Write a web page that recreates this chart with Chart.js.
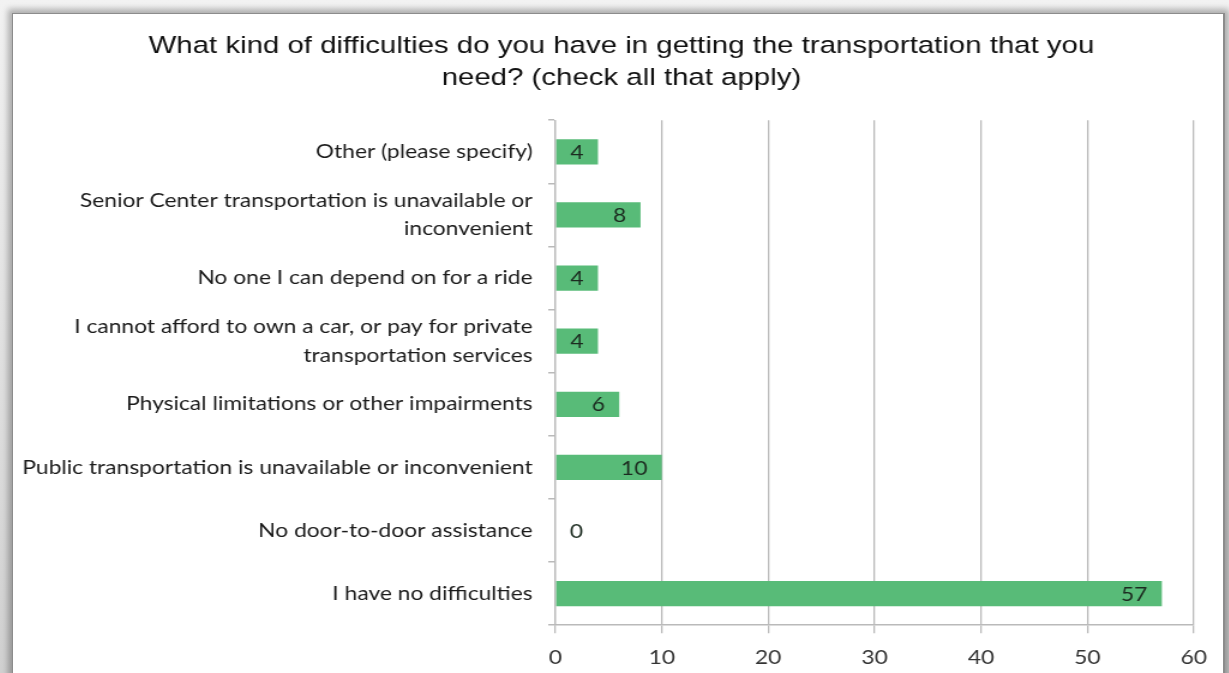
<!DOCTYPE html>
<html>
<head>
<meta charset="utf-8">
<script src="https://cdn.jsdelivr.net/npm/chart.js@4"></script>
<style>
  html, body { margin: 0; padding: 0; }
  body { width: 1229px; height: 673px; overflow: hidden; background: linear-gradient(#f2f2f2, #d0d0d0); position: relative; }
  .frame {
    position: absolute; left: 12px; top: 13px; width: 1210px; height: 680px;
    background: #fff; border-left: 1px solid #8c8c8c; border-top: 1px solid #8c8c8c; border-right: 2px solid #8c8c8c;
    box-shadow: 0 0 6px 4px rgba(0,0,0,0.28);
  }
  /* the source picture is stretched sideways, so the canvas is too */
  canvas { position: absolute; left: 0; top: 0; transform: scaleX(1.2); transform-origin: 0 0; }
</style>
</head>
<body>
<div class="frame">
  <canvas id="chart" width="1008" height="668"></canvas>
</div>
<script>
const titleLines = ['What kind of difficulties do you have in getting the transportation that you', 'need? (check all that apply)'];

const categories = [
    'Other (please specify)',
    ['Senior Center transportation is unavailable or', 'inconvenient'],
    'No one I can depend on for a ride',
    ['I cannot afford to own a car, or pay for private', 'transportation services'],
    'Physical limitations or other impairments',
    'Public transportation is unavailable or inconvenient',
    'No door-to-door assistance',
    'I have no difficulties'
];

const responses = [4, 8, 4, 4, 6, 10, 0, 57];

const xTicks = [0, 10, 20, 30, 40, 50, 60];

const labelFont = 'Lato, "Open Sans", sans-serif';

// numbers drawn at the inner end of each bar (outside when the bar is empty)
const valueLabels = {
    id: 'valueLabels',
    afterDatasetsDraw(chart) {
        const ctx = chart.ctx;
        const meta = chart.getDatasetMeta(0);
        ctx.save();
        ctx.font = '19px ' + labelFont;
        ctx.fillStyle = '#1c2b20';
        ctx.textBaseline = 'middle';
        meta.data.forEach((bar, i) => {
            const v = responses[i];
            if (v === 0) {
                ctx.textAlign = 'left';
                ctx.fillText(String(v), bar.base + 12, bar.y + 1);
            } else {
                ctx.textAlign = 'right';
                ctx.fillText(String(v), bar.x - 12, bar.y + 1);
            }
        });
        ctx.restore();
    }
};

// the title sits a little right of the canvas centre
const nudgeTitle = {
    id: 'nudgeTitle',
    afterLayout(chart) {
        if (chart.titleBlock) chart.titleBlock.left = 24;
    }
};

new Chart(document.getElementById('chart'), {
    type: 'bar',
    data: {
        labels: categories,
        datasets: [{
            data: responses,
            backgroundColor: '#58bb78',
            borderWidth: 0,
            categoryPercentage: 1,
            barPercentage: 0.4
        }]
    },
    options: {
        indexAxis: 'y',
        responsive: false,
        animation: false,
        layout: { padding: { left: 0, right: 18, top: 10, bottom: 0 } },
        plugins: {
            legend: { display: false },
            tooltip: { enabled: false },
            title: {
                display: true,
                text: titleLines,
                color: '#111',
                font: { family: '"Liberation Sans", Arial, sans-serif', size: 24.5, weight: 'normal', lineHeight: 1.31 },
                padding: { top: 6, bottom: 26 }
            }
        },
        scales: {
            x: {
                min: 0,
                max: 60,
                afterBuildTicks: scale => { scale.ticks = xTicks.map(v => ({ value: v })); },
                grid: { color: '#bababa', lineWidth: 1.3, tickLength: 8 },
                border: { color: '#bababa', width: 1.5 },
                ticks: { color: '#333', font: { family: labelFont, size: 19 }, padding: 13 }
            },
            y: {
                afterFit: scale => { scale.width = 452; },
                grid: { drawOnChartArea: false, offset: true, color: '#bababa', lineWidth: 1.5, tickLength: 6 },
                border: { color: '#bababa', width: 1.3 },
                ticks: { color: '#1a1a1a', font: { family: labelFont, size: 19, lineHeight: 1.5 }, padding: 13, autoSkip: false }
            }
        }
    },
    plugins: [valueLabels, nudgeTitle]
});
</script>
</body>
</html>
